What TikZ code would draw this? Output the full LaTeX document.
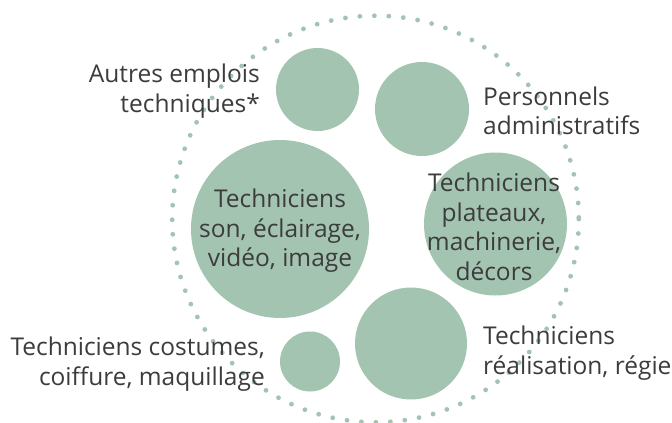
\documentclass[tikz,border=0pt]{standalone}
\usepackage{fontspec}
\setmainfont{Open Sans}
\usetikzlibrary{positioning}

\definecolor{sage}{HTML}{A3C4B1}
\definecolor{ink}{HTML}{3C3C3C}

\begin{document}
\begin{tikzpicture}[
    x=1pt, y=-1pt,
    every node/.style={font=\fontsize{24.5}{29.5}\selectfont, text=ink, inner sep=0pt},
    bubble/.style={circle, fill=sage, draw=none, align=center},
    tagleft/.style={anchor=east, align=right},
    tagright/.style={anchor=west, align=left}
]
\useasboundingbox (0,0) rectangle (672,423);

% cercle en pointillés
\draw[sage, line width=4.8pt, line cap=round, dash pattern=on 0pt off 14.5pt] (375.5,219) circle (203.3);

% bulles
\node[bubble, minimum size=83pt] (autres) at (317.5,89.5) {};
\node[bubble, minimum size=94pt] (admin) at (422,109) {};
\node[bubble, minimum size=178pt] (son) at (280,229) {};
\node[bubble, minimum size=143pt] (plateaux) at (495.5,224) {};
\node[bubble, minimum size=112pt] (realisation) at (411,343.5) {};
\node[bubble, minimum size=60pt] (costumes) at (310,361.5) {};

% textes dans les bulles
\node[align=center] (sontxt) at (280,231) {Techniciens\\son, éclairage,\\vidéo, image};
\node[align=center] (plateauxtxt) at (494,227) {Techniciens\\plateaux,\\machinerie,\\décors};

% textes autour
\node[tagleft] (autrestxt) at (260,91) {Autres emplois\\techniques*};
\node[tagright] (admintxt) at (483,111) {Personnels\\administratifs};
\node[tagleft] (costumestxt) at (265,364) {Techniciens costumes,\\coiffure, maquillage};
\node[tagright] (realisationtxt) at (483,353) {Techniciens\\réalisation, régie};

\end{tikzpicture}
\end{document}
